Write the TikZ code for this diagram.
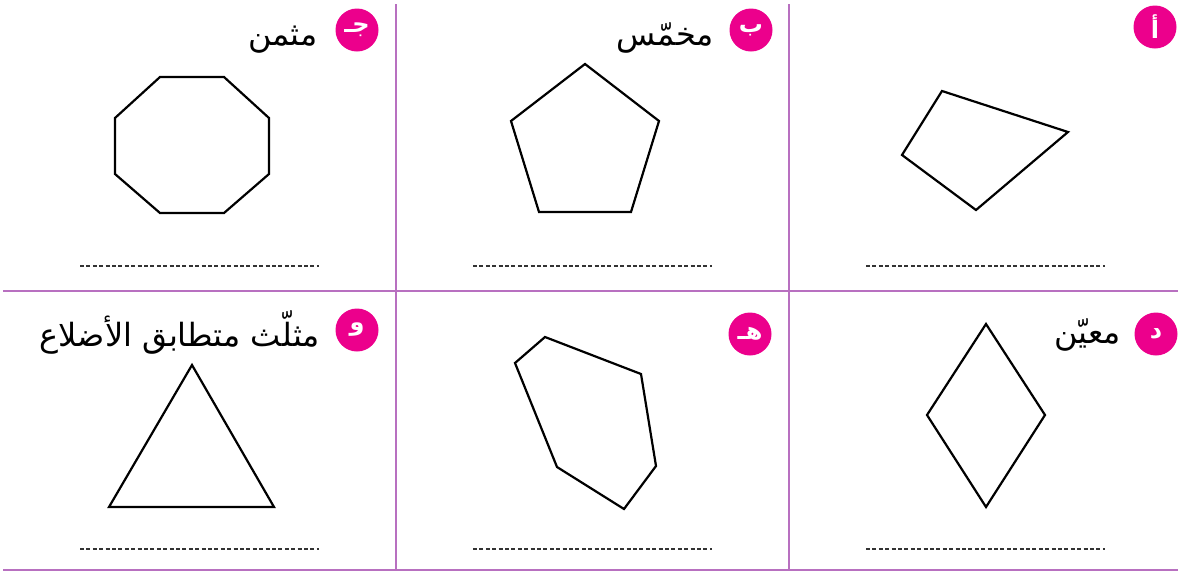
\documentclass[tikz,border=0pt]{standalone}
\usepackage{fontspec}
\newfontfamily\arabicfont[Script=Arabic]{DejaVu Sans}
\TeXXeTstate=1
\definecolor{frame}{RGB}{184,112,192}
\definecolor{badgecol}{RGB}{236,0,140}
\tikzset{
  frameline/.style={draw=frame,line width=2pt},
  shapeline/.style={draw=black,line width=2.2pt,line join=miter},
  answer/.style={draw=black!80,line width=1.2pt,dash pattern=on 4pt off 2.4pt},
  badge/.style={circle,fill=badgecol,minimum size=43pt,inner sep=0pt,text=white,font=\arabicfont\bfseries\fontsize{24}{26}\selectfont},
  label/.style={anchor=base east,inner sep=0pt,font=\arabicfont\fontsize{32}{36}\selectfont},
}
\begin{document}
\begin{tikzpicture}[x=1pt,y=-1pt]
\useasboundingbox (0,0) rectangle (1178,571);
% frame
\coordinate (hl) at (3,291); \coordinate (hr) at (1178,291);
\coordinate (bl) at (3,570); \coordinate (br) at (1178,570);
\coordinate (v1t) at (396,4); \coordinate (v1b) at (396,570);
\coordinate (v2t) at (789,4); \coordinate (v2b) at (789,570);
\draw[frameline] (hl) -- (hr);
\draw[frameline] (bl) -- (br);
\draw[frameline] (v1t) -- (v1b);
\draw[frameline] (v2t) -- (v2b);
% badges
\node[badge] (ba) at (1155,27) {\beginR أ\endR};
\node[badge] (bb) at (751,30) {\beginR ب\endR};
\node[badge] (bc) at (357,30) {\beginR جـ\endR};
\node[badge] (bd) at (1156,334) {\beginR د\endR};
\node[badge] (be) at (750,334) {\beginR هـ\endR};
\node[badge] (bf) at (357,330) {\beginR و\endR};
% labels
\node[label] (lb) at (714,45) {\beginR مخمّس\endR};
\node[label] (lc) at (318,45) {\beginR مثمن\endR};
\node[label] (ld) at (1121,343) {\beginR معيّن\endR};
\node[label] (lf) at (320,346) {\beginR مثلّث متطابق الأضلاع\endR};
% shapes
\draw[shapeline] (942,91) -- (1068,132) -- (976,210) -- (902,155) -- cycle;
\draw[shapeline] (585,64) -- (659,121) -- (631,212) -- (539,212) -- (511,121) -- cycle;
\draw[shapeline] (160,77) -- (224,77) -- (269,118) -- (269,174) -- (224,213) -- (160,213) -- (115,174) -- (115,118) -- cycle;
\draw[shapeline] (986,324) -- (1045,415) -- (986,507) -- (927,415) -- cycle;
\draw[shapeline] (545,337) -- (641,374) -- (656,466) -- (624,509) -- (557,467) -- (515,363) -- cycle;
\draw[shapeline] (192,365) -- (274,507) -- (109,507) -- cycle;
% answer lines
\coordinate (a1) at (80,266); \coordinate (a2) at (319,266);
\coordinate (a3) at (473,266); \coordinate (a4) at (712,266);
\coordinate (a5) at (866,266); \coordinate (a6) at (1105,266);
\coordinate (a7) at (80,549); \coordinate (a8) at (319,549);
\coordinate (a9) at (473,549); \coordinate (a10) at (712,549);
\coordinate (a11) at (866,549); \coordinate (a12) at (1105,549);
\draw[answer] (a1) -- (a2);
\draw[answer] (a3) -- (a4);
\draw[answer] (a5) -- (a6);
\draw[answer] (a7) -- (a8);
\draw[answer] (a9) -- (a10);
\draw[answer] (a11) -- (a12);
\end{tikzpicture}
\end{document}
